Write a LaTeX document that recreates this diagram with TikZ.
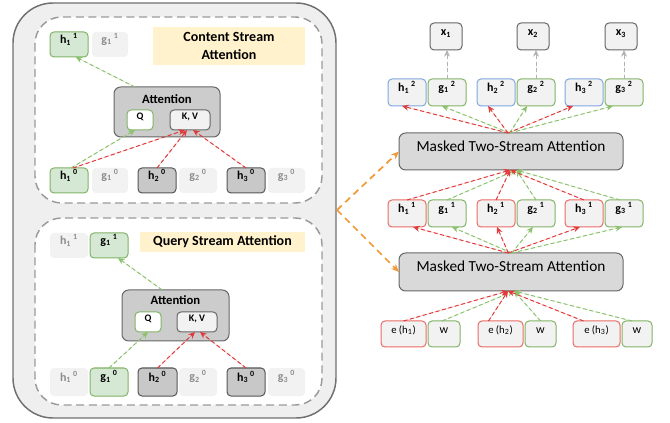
\documentclass[tikz,border=0pt]{standalone}
\usepackage{fontspec}
\setmainfont{Carlito}
\usetikzlibrary{arrows.meta,fit}
\definecolor{outerf}{HTML}{EFEFEF}
\definecolor{outerb}{HTML}{707070}
\definecolor{dashb}{HTML}{9A9A9A}
\definecolor{lightf}{HTML}{F2F2F2}
\definecolor{ghostt}{HTML}{8C8C8C}
\definecolor{greenb}{HTML}{82B366}
\definecolor{greenf}{HTML}{D5E8D4}
\definecolor{darkf}{HTML}{C8C8C8}
\definecolor{darkb}{HTML}{555555}
\definecolor{attf}{HTML}{CCCCCC}
\definecolor{attb}{HTML}{666666}
\definecolor{yellowf}{HTML}{FFF2CC}
\definecolor{blueb}{HTML}{7EA6E0}
\definecolor{redb}{HTML}{EA6B66}
\definecolor{maskf}{HTML}{D9D9D9}
\definecolor{arrred}{HTML}{E03A3A}
\definecolor{arrgreen}{HTML}{8CC26E}
\definecolor{arrgray}{HTML}{B3B3B3}
\definecolor{arrorange}{HTML}{F09A3A}
\newcommand{\hg}[3]{#1\textsubscript{#2}\,\textsuperscript{#3}}
\tikzset{
  base/.style={inner sep=0pt, outer sep=0pt, font=\bfseries\fontsize{9}{10}\selectfont, rounded corners=3pt, line width=0.75pt},
  ghost/.style={base, fill=lightf, text=ghostt},
  gbox/.style={base, draw=greenb, fill=greenf},
  dbox/.style={base, draw=darkb, fill=darkf},
  attbox/.style={base, draw=attb, fill=attf, rounded corners=5pt},
  qbox/.style={base, draw=greenb, fill=white, font=\bfseries\fontsize{7.5}{8}\selectfont},
  kvbox/.style={base, draw=attb, fill=lightf, font=\bfseries\fontsize{7.5}{8}\selectfont},
  ylab/.style={inner sep=0pt, fill=yellowf, font=\bfseries\fontsize{10}{13}\selectfont, align=center},
  xbox/.style={base, draw=attb, fill=lightf},
  hbbox/.style={base, draw=blueb, fill=lightf},
  hrbox/.style={base, draw=redb, fill=lightf},
  grbox/.style={base, draw=greenb, fill=lightf},
  mbox/.style={base, draw=attb, fill=maskf, rounded corners=5pt, font=\fontsize{11.5}{13}\selectfont},
  arr/.style={dash pattern=on 3pt off 2pt, line width=0.75pt, -{Stealth[length=5pt,width=4.5pt]}},
  ra/.style={arr, draw=arrred, fill=arrred},
  ga/.style={arr, draw=arrgreen, fill=arrgreen},
  gya/.style={arr, draw=arrgray, fill=arrgray},
  oa/.style={dash pattern=on 5pt off 3.5pt, line width=1.3pt, draw=arrorange, -{Stealth[length=6pt,width=5pt,fill=arrorange]}},
  dashbox/.style={draw=dashb, line width=1.1pt, dash pattern=on 6pt off 3.5pt, fill=white, rounded corners=20pt}
}
\begin{document}
\begin{tikzpicture}[x=0.75pt,y=-0.75pt]
\useasboundingbox (0,0) rectangle (670,423);
% outer container
\draw[draw=outerb, fill=outerf, line width=1.1pt, rounded corners=30pt] (13,3) rectangle (336,418);
\draw[dashbox] (35,17) rectangle (322,203);
\draw[dashbox] (35,218) rectangle (322,405);

% ---- content stream ----
\node[gbox, fit={(50,32)(88,57)}] (h11c) {\hg{h}{1}{1}};
\node[ghost, fit={(92,32)(128,57)}] (g11c) {\hg{g}{1}{1}};
\node[ylab, fit={(153,27)(305,65)}] (lc) {};
\node[font=\bfseries\fontsize{10.5}{13.5}\selectfont, align=center] (lct) at (lc) {Content Stream\\Attention};
\node[attbox, fit={(114,87)(220,137)}] (attc) {};
\node[font=\bfseries\fontsize{9.5}{10}\selectfont] (attct) at (167,99) {Attention};
\node[qbox, fit={(127,110)(153,130)}] (Qc) {Q};
\node[kvbox, fit={(170,110)(210,130)}] (KVc) {K, V};
\node[gbox, fit={(50,168)(88,193)}] (h10c) {\hg{h}{1}{0}};
\node[ghost, fit={(92,168)(128,193)}] (g10c) {\hg{g}{1}{0}};
\node[dbox, fit={(138,168)(176,193)}] (h20c) {\hg{h}{2}{0}};
\node[ghost, fit={(179,168)(217,193)}] (g20c) {\hg{g}{2}{0}};
\node[dbox, fit={(227,168)(265,193)}] (h30c) {\hg{h}{3}{0}};
\node[ghost, fit={(268,168)(305,193)}] (g30c) {\hg{g}{3}{0}};
\draw[ga] ([xshift=1.5pt]h10c.north) -- ([xshift=-3.75pt]Qc.south);
\draw[ra] ([xshift=3pt]h10c.north) -- ([xshift=-3.75pt]KVc.south);
\draw[ra] (h20c.north) -- ([xshift=-2.25pt]KVc.south);
\draw[ra] (h30c.north) -- ([xshift=2.25pt]KVc.south);
\draw[ga] ([xshift=-24pt]attc.north) -- ([xshift=5pt]h11c.south);

% ---- query stream ----
\node[ghost, fit={(50,233)(88,258)}] (h11q) {\hg{h}{1}{1}};
\node[gbox, fit={(90,233)(128,258)}] (g11q) {\hg{g}{1}{1}};
\node[ylab, fit={(140,232)(305,252)}] (lq) {};
\node[font=\bfseries\fontsize{10.5}{13}\selectfont] (lqt) at (lq) {Query Stream Attention};
\node[attbox, fit={(122,290)(229,341)}] (attq) {};
\node[font=\bfseries\fontsize{9.5}{10}\selectfont] (attqt) at (175.5,300) {Attention};
\node[qbox, fit={(135,312)(161,332)}] (Qq) {Q};
\node[kvbox, fit={(177,312)(217,332)}] (KVq) {K, V};
\node[ghost, fit={(50,368)(88,396)}] (h10q) {\hg{h}{1}{0}};
\node[gbox, fit={(90,368)(128,396)}] (g10q) {\hg{g}{1}{0}};
\node[dbox, fit={(138,368)(177,396)}] (h20q) {\hg{h}{2}{0}};
\node[ghost, fit={(179,368)(217,396)}] (g20q) {\hg{g}{2}{0}};
\node[dbox, fit={(227,368)(265,396)}] (h30q) {\hg{h}{3}{0}};
\node[ghost, fit={(268,368)(305,396)}] (g30q) {\hg{g}{3}{0}};
\draw[ga] (g10q.north) -- (Qq.south);
\draw[ra] (h20q.north) -- ([xshift=-1.5pt]KVq.south);
\draw[ra] (h30q.north) -- ([xshift=2.25pt]KVq.south);
\draw[ga] ([xshift=-10pt]attq.north) -- ([xshift=6.75pt]g11q.south);

% ---- right column ----
\node[xbox, fit={(430,23)(462,50)}] (x1) {x\textsubscript{1}};
\node[xbox, fit={(517,23)(549,50)}] (x2) {x\textsubscript{2}};
\node[xbox, fit={(605,23)(637,50)}] (x3) {x\textsubscript{3}};

\node[hbbox, fit={(388,79)(426,106)}] (h12) {\hg{h}{1}{2}};
\node[grbox, fit={(428,79)(466,106)}] (g12) {\hg{g}{1}{2}};
\node[hbbox, fit={(477,79)(515,106)}] (h22) {\hg{h}{2}{2}};
\node[grbox, fit={(517,79)(555,106)}] (g22) {\hg{g}{2}{2}};
\node[hbbox, fit={(565,79)(603,106)}] (h32) {\hg{h}{3}{2}};
\node[grbox, fit={(605,79)(643,106)}] (g32) {\hg{g}{3}{2}};

\node[mbox, fit={(399,133)(623,170)}] (M2) {Masked Two-Stream Attention};

\node[hrbox, fit={(388,200)(426,227)}] (h11r) {\hg{h}{1}{1}};
\node[grbox, fit={(428,200)(466,227)}] (g11r) {\hg{g}{1}{1}};
\node[hrbox, fit={(477,200)(515,227)}] (h21r) {\hg{h}{2}{1}};
\node[grbox, fit={(517,200)(555,227)}] (g21r) {\hg{g}{2}{1}};
\node[hrbox, fit={(565,200)(603,227)}] (h31r) {\hg{h}{3}{1}};
\node[grbox, fit={(605,200)(643,227)}] (g31r) {\hg{g}{3}{1}};

\node[mbox, fit={(399,253)(623,291)}] (M1) {Masked Two-Stream Attention};

\node[hrbox, font=\fontsize{8}{9}\selectfont, fit={(381,321)(426,347)}] (e1) {e (h\textsubscript{1})};
\node[grbox, font=\fontsize{9}{9}\selectfont, fit={(428,321)(460,347)}] (w1) {w};
\node[hrbox, font=\fontsize{8}{9}\selectfont, fit={(478,321)(523,347)}] (e2) {e (h\textsubscript{2})};
\node[grbox, font=\fontsize{9}{9}\selectfont, fit={(525,321)(556,347)}] (w2) {w};
\node[hrbox, font=\fontsize{8}{9}\selectfont, fit={(573,321)(620,347)}] (e3) {e (h\textsubscript{3})};
\node[grbox, font=\fontsize{9}{9}\selectfont, fit={(622,321)(652,347)}] (w3) {w};

% gray output arrows
\draw[gya] (g12.north) -- (g12.north |- x1.south);
\draw[gya] (g22.north) -- (g22.north |- x2.south);
\draw[gya] (g32.north) -- (g32.north |- x3.south);

% M2 -> row 2
\draw[ra] ([xshift=-2.25pt]M2.north) -- ([xshift=-3.75pt]h12.south);
\draw[ga] ([xshift=-1pt]M2.north) -- ([xshift=-3.75pt]g12.south);
\draw[ra] ([xshift=-2.25pt]M2.north) -- ([xshift=-6pt]h22.south);
\draw[ga] ([xshift=-1pt]M2.north) -- ([xshift=-6.75pt]g22.south);
\draw[ra] ([xshift=-2.25pt]M2.north) -- ([xshift=-8.25pt]h32.south);
\draw[ga] ([xshift=-1pt]M2.north) -- ([xshift=-8.25pt]g32.south);

% row 1 -> M2
\draw[ra] (h11r.north) -- ([xshift=-0.5pt]M2.south);
\draw[ga] (g11r.north) -- ([xshift=4pt]M2.south);
\draw[ra] (h21r.north) -- ([xshift=-0.5pt]M2.south);
\draw[ga] (g21r.north) -- ([xshift=4pt]M2.south);
\draw[ra] (h31r.north) -- ([xshift=-0.5pt]M2.south);
\draw[ga] ([xshift=-3pt]g31r.north) -- ([xshift=4pt]M2.south);

% M1 -> row 1
\draw[ra] ([xshift=-2pt]M1.north) -- ([xshift=4.5pt]h11r.south);
\draw[ga] ([xshift=0.5pt]M1.north) -- ([xshift=3.75pt]g11r.south);
\draw[ra] ([xshift=-2pt]M1.north) -- ([xshift=0.75pt]h21r.south);
\draw[ga] ([xshift=0.5pt]M1.north) -- ([xshift=-2.25pt]g21r.south);
\draw[ra] ([xshift=-2pt]M1.north) -- ([xshift=-3pt]h31r.south);
\draw[ga] ([xshift=0.5pt]M1.north) -- ([xshift=-1.5pt]g31r.south);

% row 0 -> M1
\draw[ra] (e1.north) -- ([xshift=-2.25pt]M1.south);
\draw[ga] ([xshift=-1.5pt]w1.north) -- ([xshift=2.25pt]M1.south);
\draw[ra] ([xshift=-9pt]e2.north) -- ([xshift=-2.25pt]M1.south);
\draw[ga] (w2.north) -- ([xshift=2.25pt]M1.south);
\draw[ra] ([xshift=-9.75pt]e3.north) -- ([xshift=-2.25pt]M1.south);
\draw[ga] ([xshift=-3.75pt]w3.north) -- ([xshift=2.25pt]M1.south);

% orange connectors
\coordinate (src) at (337,210);
\draw[oa] (src) -- (M2.west);
\draw[oa] (src) -- (M1.west);
\end{tikzpicture}
\end{document}
